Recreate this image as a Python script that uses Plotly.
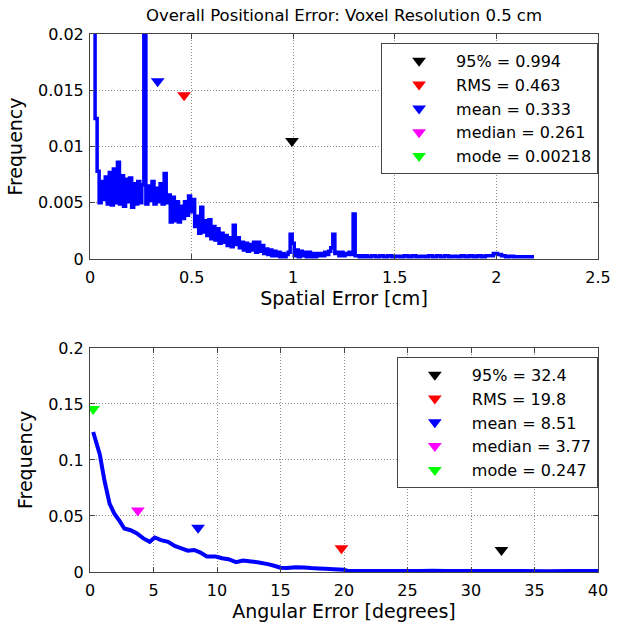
import numpy as np
import plotly.graph_objects as go

TITLE = "Overall Positional Error: Voxel Resolution 0.5 cm"

# ---------------- Spatial error histogram (frequency in units of 1e-3) ----------------
SPATIAL_BIN_START = 0.005
SPATIAL_BIN_WIDTH = 0.01
spatial_freq_milli = [
    32, 22, 12.5, 7.8, 5.0, 6.9, 5.3, 7.3, 4.9, 7.7,
    4.8, 8.0, 5.0, 8.6, 4.9, 7.4, 4.7, 7.1, 5.1, 7.2,
    4.6, 6.7, 4.9, 6.9, 5.0, 6.6, 30, 4.9, 6.5, 5.2,
    6.9, 4.9, 6.3, 5.1, 6.7, 4.9, 7.6, 5.0, 5.7, 3.3,
    5.5, 3.4, 5.1, 3.3, 4.7, 3.6, 5.1, 3.9, 5.6, 4.2,
    5.3, 2.9, 3.8, 2.3, 4.6, 2.4, 3.4, 2.1, 3.5, 1.8,
    2.9, 1.7, 2.7, 1.4, 2.3, 1.5, 2.1, 1.2, 1.9, 1.1,
    3.0, 1.3, 1.9, 1.0, 1.5, 0.8, 1.4, 0.7, 1.3, 0.8,
    1.5, 0.6, 1.5, 0.7, 1.2, 0.5, 0.9, 0.4, 0.8, 0.3,
    0.7, 0.3, 0.6, 0.2, 0.5, 0.2, 0.4, 0.6, 2.2, 1.4,
    0.3, 0.8, 0.2, 0.7, 0.3, 0.6, 0.2, 0.6, 0.2, 0.5,
    0.2, 0.5, 0.3, 0.5, 0.3, 0.6, 0.4, 0.7, 1.0, 2.2,
    0.5, 0.6, 0.3, 0.6, 0.3, 0.5, 0.4, 0.6, 0.4, 4.0,
    0.3, 0.3, 0.2, 0.3, 0.2, 0.3,
]
SPATIAL_TAIL_START = 1.365
SPATIAL_TAIL_STEP = 0.02
spatial_tail_milli = [
    0.2, 0.3, 0.2, 0.3, 0.2, 0.3, 0.2, 0.25, 0.2, 0.3,
    0.2, 0.3, 0.2, 0.25, 0.2, 0.3, 0.2, 0.3, 0.2, 0.3,
    0.2, 0.25, 0.2, 0.3, 0.2, 0.3, 0.2, 0.3, 0.2, 0.3,
    0.3, 0.5, 0.4, 0.3, 0.2, 0.25, 0.2, 0.2, 0.2, 0.2,
    0.2, 0.2,
]

spatial_stat_labels = ["95% = 0.994", "RMS = 0.463", "mean = 0.333", "median = 0.261", "mode = 0.00218"]
spatial_stat_x = [0.994, 0.463, 0.333, 0.261, 0.00218]
spatial_stat_y = [0.0105, 0.01456, 0.0158, 0.035, 0.1]

# ---------------- Angular error histogram ----------------
angular_x = [0.25, 0.77, 1.15, 1.54, 1.92, 2.3, 2.7, 3.2, 3.7, 4.2,
             4.7, 5.1, 5.6, 6.15, 6.67, 7.2, 7.7, 8.2, 8.7, 9.2,
             9.9, 10.4, 10.9, 11.5, 12.05, 12.7, 13.3, 14.0, 14.5, 15.0,
             15.5, 16.2, 16.9, 17.4, 18.0, 18.5, 19.2, 20.0, 20.3, 22,
             24, 26, 27, 28, 30, 32, 34, 36, 38, 40]
angular_freq = [0.125, 0.105, 0.081, 0.061, 0.052, 0.046, 0.0388, 0.0373, 0.0344, 0.030,
                0.027, 0.0308, 0.0285, 0.027, 0.0232, 0.0211, 0.019, 0.0197, 0.0173, 0.0138,
                0.0138, 0.0123, 0.0114, 0.0088, 0.0103, 0.0094, 0.0085, 0.007, 0.0056, 0.0038,
                0.0035, 0.0043, 0.0041, 0.0036, 0.0032, 0.0029, 0.0024, 0.002, 0.0009, 0.0009,
                0.0008, 0.0009, 0.0012, 0.0009, 0.0009, 0.0008, 0.0008, 0.0007, 0.0009, 0.0008]

angular_stat_labels = ["95% = 32.4", "RMS = 19.8", "mean = 8.51", "median = 3.77", "mode = 0.247"]
angular_stat_x = [32.4, 19.8, 8.51, 3.77, 0.247]
angular_stat_y = [0.0197, 0.0211, 0.0396, 0.0549, 0.1454]

stat_colors = ["#000000", "#ff0000", "#0000ff", "#ff00ff", "#00ff00"]

# tick labels
top_xticks = [0, 0.5, 1, 1.5, 2, 2.5]
top_xticklabels = ["0", "0.5", "1", "1.5", "2", "2.5"]
top_yticks = [0, 0.005, 0.01, 0.015, 0.02]
top_yticklabels = ["0", "0.005", "0.01", "0.015", "0.02"]
bot_xticks = [0, 5, 10, 15, 20, 25, 30, 35, 40]
bot_xticklabels = ["0", "5", "10", "15", "20", "25", "30", "35", "40"]
bot_yticks = [0, 0.05, 0.1, 0.15, 0.2]
bot_yticklabels = ["0", "0.05", "0.1", "0.15", "0.2"]

# ---------------- Build figure ----------------
spatial_x = np.concatenate([
    SPATIAL_BIN_START + SPATIAL_BIN_WIDTH * np.arange(len(spatial_freq_milli)),
    SPATIAL_TAIL_START + SPATIAL_TAIL_STEP * np.arange(len(spatial_tail_milli)),
])
spatial_y = np.array(spatial_freq_milli + spatial_tail_milli) / 1000.0

FONT = "DejaVu Sans, Verdana, sans-serif"
BLUE = "#0000ff"
MARKER_SIZE = 12
fig = go.Figure()
fig.add_trace(go.Scatter(x=spatial_x, y=spatial_y, mode="lines",
                         line=dict(color=BLUE, width=3.5, shape="hv", simplify=False),
                         showlegend=False, xaxis="x", yaxis="y"))
for lab, sx, sy, c in zip(spatial_stat_labels, spatial_stat_x, spatial_stat_y, stat_colors):
    fig.add_trace(go.Scatter(x=[sx], y=[sy], mode="markers", name=lab,
                             marker=dict(symbol="triangle-down", size=MARKER_SIZE, color=c, line=dict(width=0)),
                             xaxis="x", yaxis="y", legend="legend"))

fig.add_trace(go.Scatter(x=angular_x, y=angular_freq, mode="lines",
                         line=dict(color=BLUE, width=4, simplify=False), showlegend=False,
                         xaxis="x2", yaxis="y2"))
for lab, sx, sy, c in zip(angular_stat_labels, angular_stat_x, angular_stat_y, stat_colors):
    fig.add_trace(go.Scatter(x=[sx], y=[sy], mode="markers", name=lab,
                             marker=dict(symbol="triangle-down", size=MARKER_SIZE, color=c, line=dict(width=0)),
                             xaxis="x2", yaxis="y2", legend="legend2"))

AX = dict(showline=True, linecolor="#444", linewidth=1, mirror="ticks",
          ticks="inside", ticklen=5, tickcolor="#444",
          showgrid=True, gridcolor="#8c8c8c", griddash="1px,2px", gridwidth=1,
          zeroline=False, tickfont=dict(family=FONT, size=16, color="black"))

fig.update_layout(
    width=623, height=630,
    margin=dict(l=90, r=13, t=34, b=51),
    plot_bgcolor="white", paper_bgcolor="white",
    font=dict(family=FONT, size=16, color="black"),
    title=dict(text=TITLE, x=0.5, xref="paper", xanchor="center",
               y=1 - 15 / 630, yref="container", yanchor="middle",
               font=dict(family=FONT, size=16.5, color="black")),
    xaxis=dict(AX, domain=[0, 1], range=[0, 2.5], tickvals=top_xticks, ticktext=top_xticklabels,
               anchor="y", ticklabelstandoff=4, title=dict(text="Spatial Error [cm]", standoff=4)),
    yaxis=dict(AX, domain=[0.5817, 1], range=[0, 0.02], tickvals=top_yticks, ticktext=top_yticklabels,
               anchor="x", ticklabelstandoff=2, title=dict(text="Frequency", standoff=10)),
    xaxis2=dict(AX, domain=[0, 1], range=[0, 40], tickvals=bot_xticks, ticktext=bot_xticklabels,
                anchor="y2", ticklabelstandoff=4, title=dict(text="Angular Error [degrees]", standoff=4)),
    yaxis2=dict(AX, domain=[0, 0.4165], range=[0, 0.2], tickvals=bot_yticks, ticktext=bot_yticklabels,
                anchor="x2", ticklabelstandoff=2, title=dict(text="Frequency", standoff=10)),
    legend=dict(x=0.573, y=0.9835, xanchor="left", yanchor="top", bgcolor="white",
                bordercolor="#444", borderwidth=1, font=dict(family=FONT, size=16), itemwidth=64),
    legend2=dict(x=0.604, y=0.40, xanchor="left", yanchor="top", bgcolor="white",
                 bordercolor="#444", borderwidth=1, font=dict(family=FONT, size=16), itemwidth=64),
)

fig.write_html("out.html")
